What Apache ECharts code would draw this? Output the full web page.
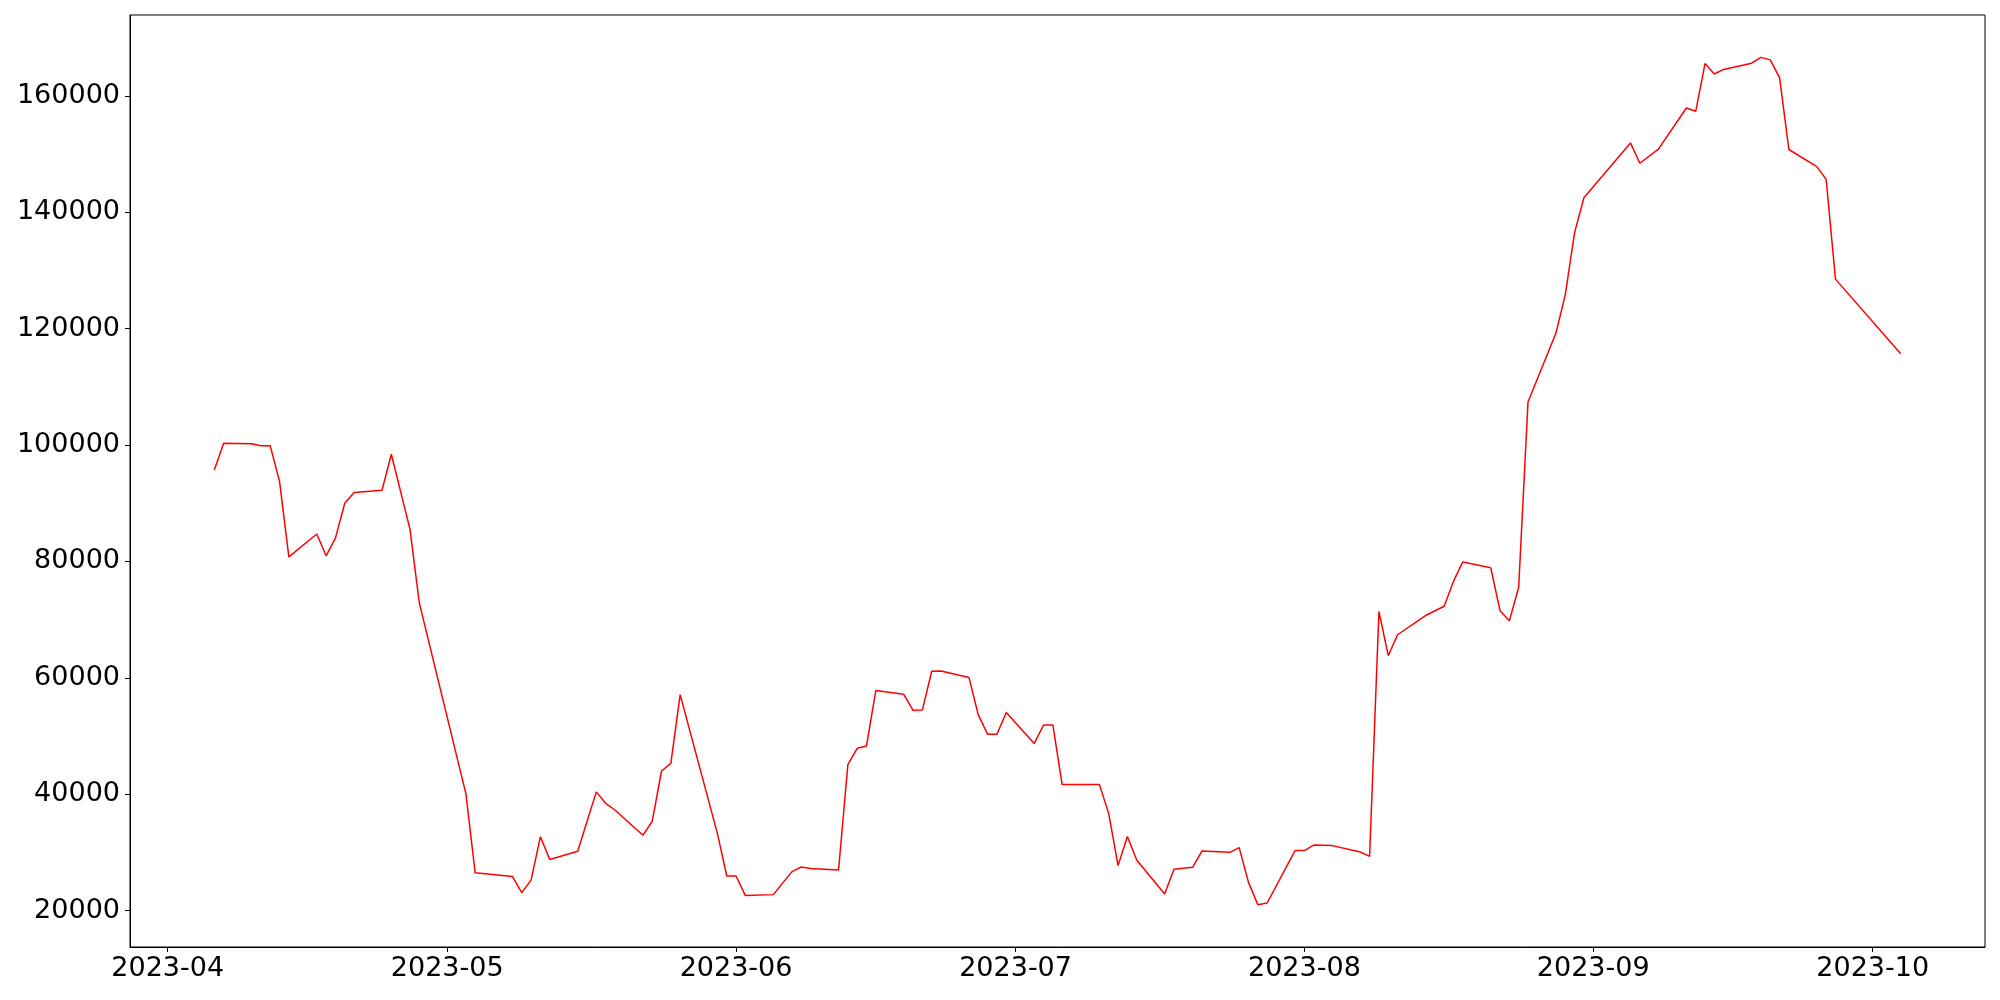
<!DOCTYPE html>
<html>
<head>
<meta charset="utf-8">
<title>line</title>
<script src="https://cdn.jsdelivr.net/npm/echarts@6/dist/echarts.min.js"></script>
<style>
  html, body { margin: 0; padding: 0; background: #fff; }
  #chart { width: 2000px; height: 1000px; }
</style>
</head>
<body>
<div id="chart"></div>
<script>
// trading days
const dates = [
  '2023-04-06', '2023-04-07', '2023-04-10', '2023-04-11', '2023-04-12', '2023-04-13', '2023-04-14',
  '2023-04-17', '2023-04-18', '2023-04-19', '2023-04-20', '2023-04-21', '2023-04-24', '2023-04-25',
  '2023-04-27', '2023-04-28', '2023-05-03', '2023-05-04', '2023-05-08', '2023-05-09', '2023-05-10',
  '2023-05-11', '2023-05-12', '2023-05-15', '2023-05-17', '2023-05-18', '2023-05-19', '2023-05-22',
  '2023-05-23', '2023-05-24', '2023-05-25', '2023-05-26', '2023-05-30', '2023-05-31', '2023-06-01',
  '2023-06-02', '2023-06-05', '2023-06-07', '2023-06-08', '2023-06-09', '2023-06-12', '2023-06-13',
  '2023-06-14', '2023-06-15', '2023-06-16', '2023-06-19', '2023-06-20', '2023-06-21', '2023-06-22',
  '2023-06-23', '2023-06-26', '2023-06-27', '2023-06-28', '2023-06-29', '2023-06-30', '2023-07-03',
  '2023-07-04', '2023-07-05', '2023-07-06', '2023-07-07', '2023-07-10', '2023-07-11', '2023-07-12',
  '2023-07-13', '2023-07-14', '2023-07-17', '2023-07-18', '2023-07-20', '2023-07-21', '2023-07-24',
  '2023-07-25', '2023-07-26', '2023-07-27', '2023-07-28', '2023-07-31', '2023-08-01', '2023-08-02',
  '2023-08-03', '2023-08-04', '2023-08-07', '2023-08-08', '2023-08-09', '2023-08-10', '2023-08-11',
  '2023-08-14', '2023-08-16', '2023-08-17', '2023-08-18', '2023-08-21', '2023-08-22', '2023-08-23',
  '2023-08-24', '2023-08-25', '2023-08-28', '2023-08-29', '2023-08-30', '2023-08-31', '2023-09-05',
  '2023-09-06', '2023-09-08', '2023-09-11', '2023-09-12', '2023-09-13', '2023-09-14', '2023-09-15',
  '2023-09-18', '2023-09-19', '2023-09-20', '2023-09-21', '2023-09-22', '2023-09-25', '2023-09-26',
  '2023-09-27', '2023-10-04'
]

const values = [
  95700, 100300, 100200, 99870, 99870, 93760, 80770,
  84710, 80960, 84010, 90000, 91850, 92230, 98410,
  85540, 72870, 40100, 26500, 25850, 23100, 25250,
  32700, 28800, 30190, 40400, 38440, 37290, 32940,
  35350, 43990, 45310, 57120, 33230, 25950, 25950,
  22580, 22750, 26700, 27490, 27220, 26980, 45090,
  47890, 48290, 57810, 57170, 54420, 54480, 61130,
  61180, 60040, 53620, 50300, 50300, 54030, 48700,
  51900, 51900, 41650, 41650, 41650, 36670, 27730,
  32720, 28700, 22850, 27100, 27440, 30240, 30020,
  30830, 24860, 21030, 21310, 30310, 30310, 31270,
  31250, 31170, 30070, 29330, 71400, 63800, 67400,
  70700, 72300, 76560, 79910, 78910, 71510, 69790,
  75560, 107390, 119230, 125800, 136490, 142490, 151900,
  148410, 150840, 157900, 157330, 165530, 163740, 164530,
  165600, 166600, 166170, 163110, 150770, 147830, 145630,
  128500, 115660
]

const yTicks = [20000, 40000, 60000, 80000, 100000, 120000, 140000, 160000]
const xTickLabels = ['2023-04', '2023-05', '2023-06', '2023-07', '2023-08', '2023-09', '2023-10']

function toTime (s) {
  const p = s.split('-').map(Number)
  return new Date(p[0], p[1] - 1, p[2] || 1).getTime()
}

const seriesData = dates.map((d, i) => [toTime(d), values[i]])
const xTicks = xTickLabels.map(toTime)

// same 5% padding as the source plot
const tMin = seriesData[0][0]
const tMax = seriesData[seriesData.length - 1][0]
const tPad = (tMax - tMin) * 0.05
const vMin = Math.min(...values)
const vMax = Math.max(...values)
const vPad = (vMax - vMin) * 0.05

const font = 'DejaVu Sans'
const chart = echarts.init(document.getElementById('chart'))

chart.setOption({
  animation: false,
  backgroundColor: '#fff',
  grid: {
    left: 130,
    right: 15,
    top: 15,
    bottom: 53,
    show: true,
    borderColor: '#000',
    borderWidth: 1,
    backgroundColor: 'transparent'
  },
  xAxis: {
    // timestamps on a plain value axis so the month ticks can be placed exactly
    type: 'value',
    min: tMin - tPad,
    max: tMax + tPad,
    axisLine: { show: true, lineStyle: { color: '#000', width: 1 } },
    axisTick: { show: true, length: 5, lineStyle: { color: '#000' }, customValues: xTicks },
    axisLabel: {
      customValues: xTicks,
      margin: 8,
      fontFamily: font,
      fontSize: 27,
      color: '#000',
      formatter: v => {
        const d = new Date(v)
        return d.getFullYear() + '-' + String(d.getMonth() + 1).padStart(2, '0')
      }
    },
    splitLine: { show: false }
  },
  yAxis: {
    type: 'value',
    min: vMin - vPad,
    max: vMax + vPad,
    axisLine: { show: true, lineStyle: { color: '#000', width: 1 } },
    axisTick: { show: true, length: 5, lineStyle: { color: '#000' }, customValues: yTicks },
    axisLabel: {
      customValues: yTicks,
      margin: 10,
      fontFamily: font,
      fontSize: 27,
      color: '#000',
      formatter: v => String(v)
    },
    splitLine: { show: false }
  },
  series: [
    {
      type: 'line',
      data: seriesData,
      showSymbol: false,
      lineStyle: { color: '#ff0000', width: 1.5 }
    }
  ]
})
</script>
</body>
</html>
